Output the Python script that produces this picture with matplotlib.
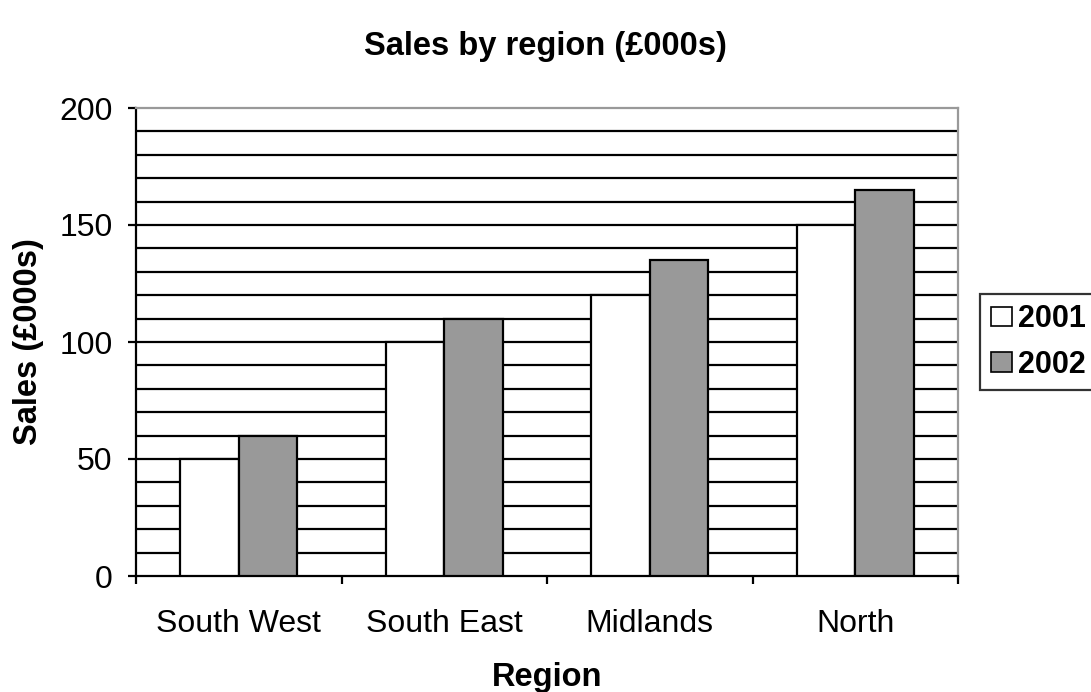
import numpy as np
import matplotlib.pyplot as plt
from matplotlib.patches import Patch

regions = ['South West', 'South East', 'Midlands', 'North']
sales_2001 = [50, 100, 120, 150]
sales_2002 = [60, 110, 135, 165]
years = ['2001', '2002']

plt.rcParams['font.family'] = ['Liberation Sans', 'DejaVu Sans']

fig = plt.figure(figsize=(10.91, 6.92), dpi=100)
ax = fig.add_axes([136/1091, 1 - 576/692, (958 - 136)/1091, (576 - 108)/692])

x = np.arange(len(regions)) + 0.5
w = 1 / 3.5

# gridlines every 10
for v in range(10, 200, 10):
    ax.axhline(v, color='black', lw=1.6, zorder=1)

ax.bar(x - w/2, sales_2001, width=w, color='white', edgecolor='black', lw=1.6, zorder=3)
ax.bar(x + w/2, sales_2002, width=w, color='#999999', edgecolor='black', lw=1.6, zorder=3)

ax.set_xlim(0, len(regions))
ax.set_ylim(0, 200)

ax.set_yticks(range(0, 201, 50))
ax.tick_params(axis='y', direction='out', length=6, width=1.6, pad=11, labelsize=23)

ax.set_xticks(np.arange(len(regions) + 1))
ax.set_xticklabels([])
ax.tick_params(axis='x', which='major', direction='out', length=6, width=1.6)
ax.set_xticks(x, minor=True)
ax.set_xticklabels(regions, minor=True)
ax.tick_params(axis='x', which='minor', length=0, pad=24, labelsize=23)

ax.spines['left'].set_linewidth(1.6)
ax.spines['bottom'].set_linewidth(1.6)
ax.spines['top'].set_color('#999999')
ax.spines['right'].set_color('#999999')
ax.spines['top'].set_linewidth(1.6)
ax.spines['right'].set_linewidth(1.6)

fig.text(545/1091, 1 - 47/692, 'Sales by region (£000s)', ha='center', va='center',
         fontsize=23.5, fontweight='bold')
fig.text(28/1091, 1 - 342/692, 'Sales (£000s)', ha='center', va='center',
         rotation=90, fontsize=23.5, fontweight='bold')
fig.text(547/1091, 1 - 686/692, 'Region', ha='center', va='baseline',
         fontsize=23.5, fontweight='bold')

handles = [Patch(facecolor='white', edgecolor='black', lw=1.2),
           Patch(facecolor='#999999', edgecolor='black', lw=1.2)]
leg = fig.legend(handles, years, loc='center left', bbox_to_anchor=(980/1091, 1 - 342/692),
                 prop={'size': 22, 'weight': 'bold'}, frameon=True, fancybox=False,
                 borderaxespad=0, borderpad=0.35, handlelength=0.7, handleheight=0.6,
                 handletextpad=0.2, labelspacing=0.5)
leg.get_frame().set_edgecolor('black')
leg.get_frame().set_linewidth(1.6)

fig.savefig('out.png', dpi=100)
